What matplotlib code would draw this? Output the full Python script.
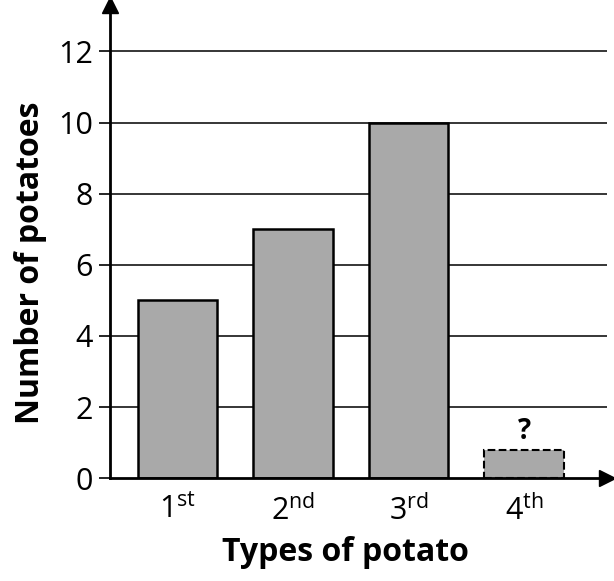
import matplotlib.pyplot as plt

plt.rcParams['font.family'] = ['Open Sans', 'DejaVu Sans']
plt.rcParams['mathtext.fontset'] = 'custom'
plt.rcParams['mathtext.rm'] = 'Open Sans'

# Data
potato_types = ['1$^{\\mathrm{st}}$', '2$^{\\mathrm{nd}}$', '3$^{\\mathrm{rd}}$', '4$^{\\mathrm{th}}$']
counts = [5, 7, 10, 0.8]
unknown = [False, False, False, True]
y_ticks = [0, 2, 4, 6, 8, 10, 12]

fig = plt.figure(figsize=(6.14, 5.81), dpi=100)
ax = fig.add_axes([0.179, 0.177, 0.81, 0.814])

x = list(range(len(counts)))
ax.set_xlim(-0.586, 3.72)
ax.set_ylim(0, 13.3)

# horizontal grid lines
for t in y_ticks[1:]:
    ax.axhline(t, color='black', lw=1.1, zorder=1)

for xi, c, unk in zip(x, counts, unknown):
    ax.bar(xi, c, width=0.69, color='#a9a9a9', edgecolor='black',
           linewidth=1.8 if not unk else 1.5,
           linestyle='--' if unk else '-', zorder=2)
    if unk:
        ax.text(xi, c + 0.1, '?', ha='center', va='bottom',
                fontsize=20, fontweight='bold', zorder=3)

ax.set_yticks(y_ticks)
ax.set_yticklabels([str(t) for t in y_ticks], fontsize=22)
ax.set_xticks(x)
ax.set_xticklabels(potato_types, fontsize=22)
ax.tick_params(axis='x', length=0, pad=12)
ax.tick_params(axis='y', length=8, width=1.2, pad=4)

for s in ['top', 'right']:
    ax.spines[s].set_visible(False)
ax.spines['left'].set_linewidth(2)
ax.spines['bottom'].set_linewidth(2)

# axis arrows
ax.plot(1, 0, '>', color='black', markersize=11, transform=ax.transAxes, clip_on=False)
ax.plot(0, 1, '^', color='black', markersize=11, transform=ax.transAxes, clip_on=False)

ax.set_ylabel('Number of potatoes', fontsize=23, fontweight='bold', va='center')
ax.set_xlabel('Types of potato', fontsize=23, fontweight='bold', va='center')
ax.yaxis.set_label_coords(-0.16, 0.455)
ax.xaxis.set_label_coords(0.473, -0.157)

fig.savefig('out.png', dpi=100)
